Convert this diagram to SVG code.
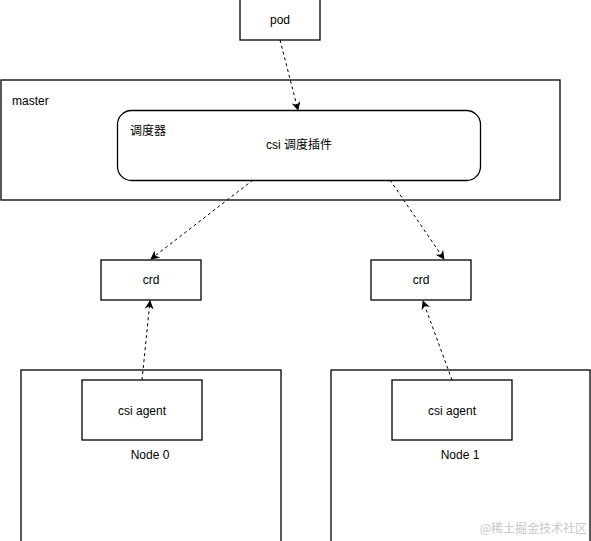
<svg xmlns="http://www.w3.org/2000/svg" width="591" height="541" viewBox="0 0 591 541">
<defs>
<style>
.box{fill:#fff;stroke:#000;stroke-width:1.3}
.t{font-family:"Liberation Sans","Noto Sans CJK SC",sans-serif;font-size:12px;fill:#000}
.m{text-anchor:middle}
.c{fill:none;stroke:#000;stroke-width:1;stroke-dasharray:3 3}
</style>
<marker id="ah" viewBox="0 0 10 10" refX="9" refY="5" markerWidth="9" markerHeight="9" markerUnits="userSpaceOnUse" orient="auto">
<path d="M0,0 L10,5 L0,10 L3,5 Z" fill="#000"/>
</marker>
</defs>
<rect width="591" height="541" fill="#fff"/>
<g id="master">
<rect class="box" x="1" y="80" width="559" height="120"/>
<text class="t" x="12" y="105">master</text>
</g>
<g id="scheduler">
<rect class="box" x="117.5" y="110.5" width="363" height="70" rx="14"/>
<text class="t" x="130" y="135">调度器</text>
<text class="t m" x="299" y="149">csi 调度插件</text>
</g>
<g id="pod">
<rect class="box" x="240" y="-1" width="80" height="41"/>
<text class="t m" x="280" y="24">pod</text>
</g>
<g id="crd0">
<rect class="box" x="101" y="260" width="100" height="40"/>
<text class="t m" x="151" y="284">crd</text>
</g>
<g id="crd1">
<rect class="box" x="371" y="260" width="100" height="40"/>
<text class="t m" x="421" y="284">crd</text>
</g>
<g id="node0">
<rect class="box" x="21" y="370" width="260" height="172"/>
<text class="t m" x="150" y="459">Node 0</text>
</g>
<g id="agent0">
<rect class="box" x="82" y="380" width="120" height="60"/>
<text class="t m" x="142" y="415">csi agent</text>
</g>
<g id="node1">
<rect class="box" x="331" y="370" width="259" height="172"/>
<text class="t m" x="460" y="459">Node 1</text>
</g>
<g id="agent1">
<rect class="box" x="392" y="380" width="120" height="60"/>
<text class="t m" x="452" y="415">csi agent</text>
</g>
<g id="connectors">
<path class="c" d="M280,40 L298,110" marker-end="url(#ah)"/>
<path class="c" d="M253,180 L151,259" marker-end="url(#ah)"/>
<path class="c" d="M390,180 L444,259" marker-end="url(#ah)"/>
<path class="c" d="M142,380 L150,301" marker-end="url(#ah)"/>
<path class="c" d="M452,380 L423,301" marker-end="url(#ah)"/>
</g>
<text x="587" y="533" text-anchor="end" style="font-family:'Noto Sans CJK SC',sans-serif;font-size:12px;fill:#c8c8c8">@稀土掘金技术社区</text>
</svg>
